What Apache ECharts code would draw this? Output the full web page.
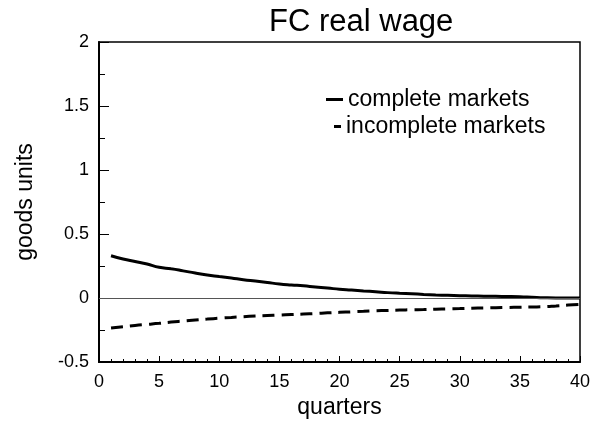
<!DOCTYPE html>
<html>
<head>
<meta charset="utf-8">
<script src="https://cdn.jsdelivr.net/npm/echarts@6/dist/echarts.min.js"></script>
<style>
  html, body { margin: 0; padding: 0; background: #fff; }
  #chart { width: 599px; height: 431px; }
</style>
</head>
<body>
<div id="chart"></div>
<script>
// quarters 1..40
var quarters = [1, 2, 3, 4, 5, 6, 7, 8, 9, 10, 11, 12, 13, 14, 15, 16, 17, 18, 19, 20,
  21, 22, 23, 24, 25, 26, 27, 28, 29, 30, 31, 32, 33, 34, 35, 36, 37, 38, 39, 40];
// complete markets
var complete = [0.330, 0.305, 0.285, 0.265, 0.240, 0.228, 0.212, 0.195, 0.180, 0.168,
  0.156, 0.143, 0.132, 0.121, 0.110, 0.102, 0.095, 0.086, 0.078, 0.068,
  0.062, 0.055, 0.049, 0.042, 0.037, 0.033, 0.028, 0.024, 0.021, 0.018,
  0.016, 0.014, 0.013, 0.012, 0.010, 0.006, 0.002, 0.000, 0.000, 0.000];
// incomplete markets
var incomplete = [-0.234, -0.224, -0.214, -0.206, -0.198, -0.188, -0.180, -0.172, -0.165, -0.158,
  -0.152, -0.146, -0.141, -0.137, -0.133, -0.129, -0.125, -0.121, -0.116, -0.112,
  -0.108, -0.104, -0.100, -0.097, -0.094, -0.092, -0.090, -0.087, -0.085, -0.083,
  -0.080, -0.078, -0.076, -0.074, -0.072, -0.070, -0.068, -0.062, -0.055, -0.050];

function pairs(ys) {
  return quarters.map(function (q, i) { return [q, ys[i]]; });
}

var font = 'Liberation Sans, Arial, sans-serif';
var myChart = echarts.init(document.getElementById('chart'), null, { renderer: 'canvas' });

var option = {
  animation: false,
  backgroundColor: '#fff',
  title: {
    text: 'FC real wage',
    left: 264,
    top: 2,
    textStyle: { fontFamily: font, fontSize: 31, fontWeight: 'normal', color: '#000' }
  },
  legend: [
    {
      data: ['complete markets'],
      orient: 'vertical',
      left: 321, top: 83,
      icon: 'rect', itemWidth: 17, itemHeight: 3,
      textStyle: { fontFamily: font, fontSize: 23, color: '#000' }
    },
    {
      data: ['incomplete markets'],
      orient: 'vertical',
      left: 329, top: 110,
      icon: 'rect', itemWidth: 7, itemHeight: 3,
      textStyle: { fontFamily: font, fontSize: 23, color: '#000' }
    }
  ],
  grid: {
    left: 99, right: 19, top: 42, bottom: 69,
    show: true, borderColor: '#000', borderWidth: 1.5
  },
  xAxis: {
    type: 'value',
    min: 0, max: 40, interval: 5,
    name: 'quarters',
    nameLocation: 'middle',
    nameGap: 31,
    nameTextStyle: { fontFamily: font, fontSize: 23, color: '#000' },
    axisLine: { onZero: false, lineStyle: { color: '#000', width: 2 } },
    axisTick: { inside: true, length: 6, lineStyle: { color: '#000', width: 1 } },
    minorTick: { show: true, splitNumber: 5, length: 3, lineStyle: { color: '#000', width: 1 } },
    axisLabel: { fontFamily: font, fontSize: 18, color: '#000', margin: 11 },
    splitLine: { show: false }
  },
  yAxis: {
    type: 'value',
    min: -0.5, max: 2, interval: 0.5,
    name: 'goods units',
    nameLocation: 'middle',
    nameGap: 62,
    nameTextStyle: { fontFamily: font, fontSize: 23, color: '#000' },
    axisLine: { show: true, lineStyle: { color: '#000', width: 2 } },
    axisTick: { show: true, inside: true, length: 10, lineStyle: { color: '#000', width: 1 } },
    minorTick: { show: true, splitNumber: 2, length: 6, lineStyle: { color: '#000', width: 1 } },
    axisLabel: { fontFamily: font, fontSize: 18, color: '#000', margin: 10 },
    splitLine: { show: false }
  },
  series: [
    {
      name: 'complete markets',
      type: 'line',
      data: pairs(complete),
      showSymbol: false,
      smooth: true,
      color: '#000',
      lineStyle: { color: '#000', width: 3 },
      markLine: {
        silent: true,
        symbol: 'none',
        label: { show: false },
        lineStyle: { color: '#555', width: 1, type: 'solid' },
        data: [{ yAxis: 0 }]
      }
    },
    {
      name: 'incomplete markets',
      type: 'line',
      data: pairs(incomplete),
      showSymbol: false,
      smooth: true,
      color: '#000',
      lineStyle: { color: '#000', width: 3, type: [12, 7] }
    }
  ]
};

myChart.setOption(option);
window.addEventListener('resize', function () {
  myChart.resize();
});
</script>
</body>
</html>
